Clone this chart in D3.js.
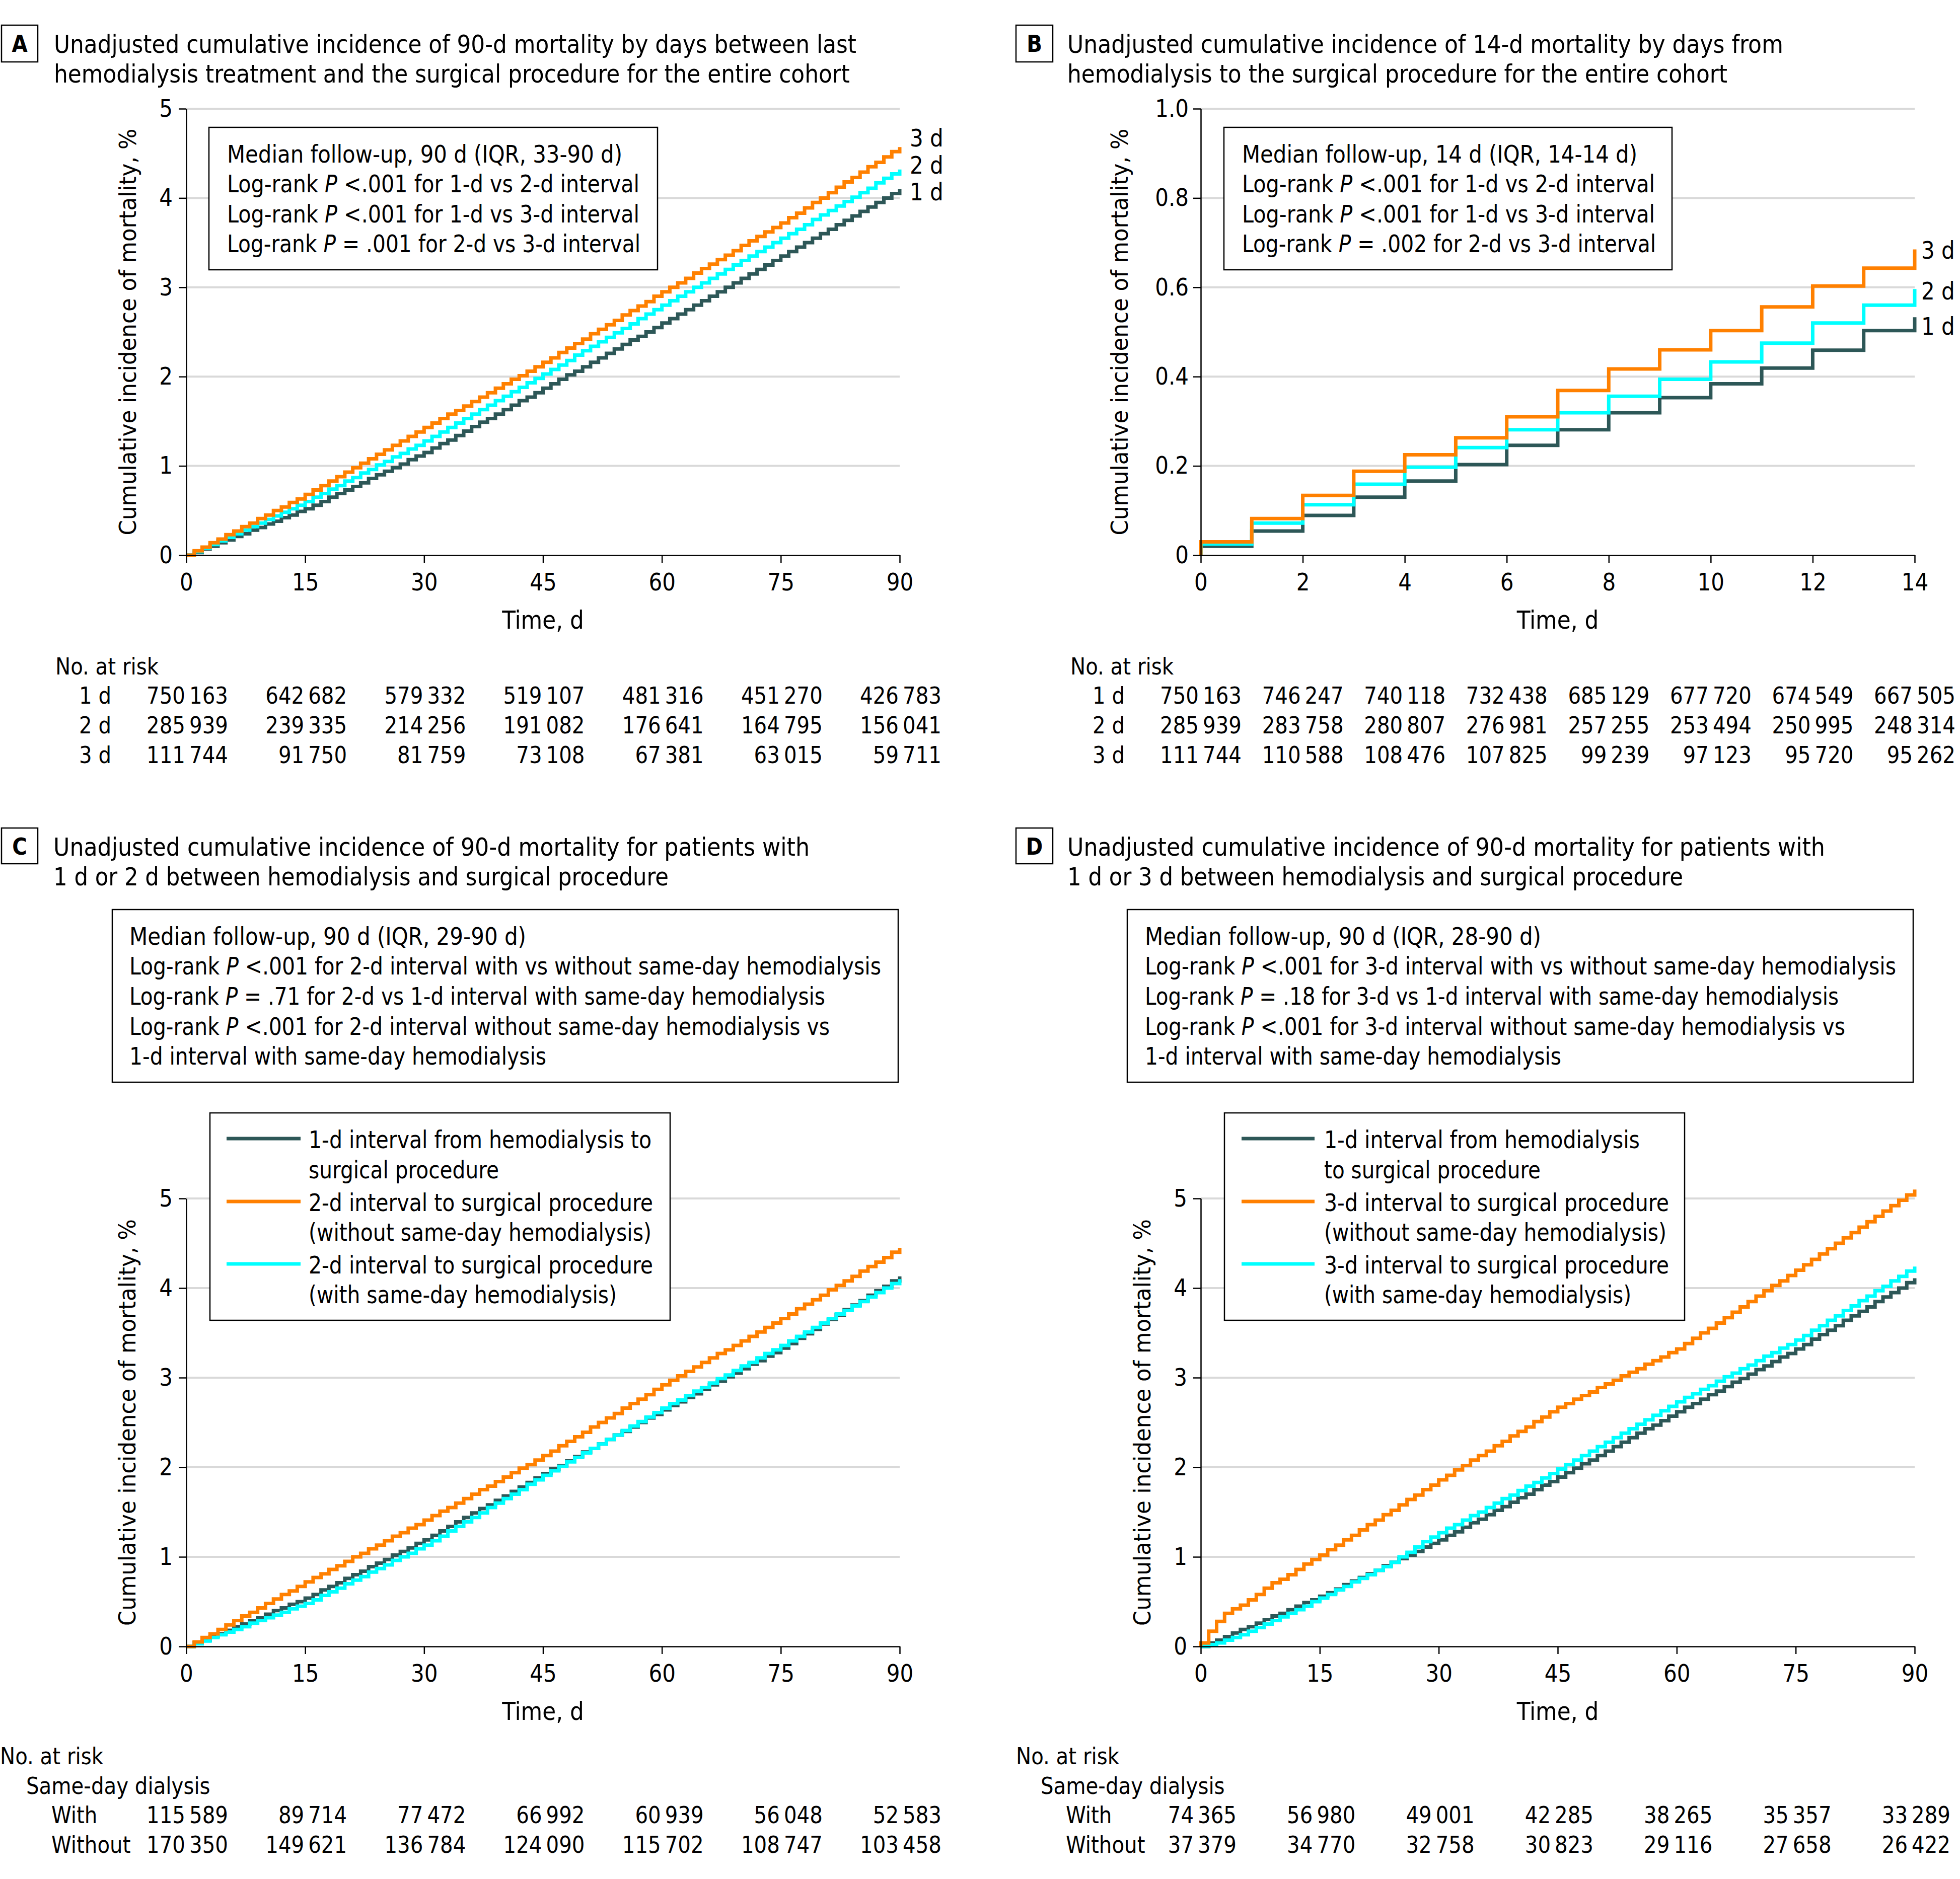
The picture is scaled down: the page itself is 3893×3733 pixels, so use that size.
<!DOCTYPE html>
<html><head><meta charset="utf-8">
<script src="https://cdn.jsdelivr.net/npm/d3@7"></script>
<style>body{margin:0;background:#fff}</style>
</head><body>
<script>
// ---------------- DATA ----------------
const xTicks90 = [0, 15, 30, 45, 60, 75, 90];
const xTicks14 = [0, 2, 4, 6, 8, 10, 12, 14];
const yTicks5 = [0, 1, 2, 3, 4, 5];
const yLabels5 = ["0", "1", "2", "3", "4", "5"];
const yTicks1 = [0, 0.2, 0.4, 0.6, 0.8, 1.0];
const yLabels1 = ["0", "0.2", "0.4", "0.6", "0.8", "1.0"];

// Panel A: cumulative incidence (%) at each day 0..90
const a1d = [0,0.03,0.07,0.10,0.14,0.17,0.21,0.24,0.28,0.31,0.35,0.38,0.42,0.45,0.49,0.52,
0.56,0.60,0.65,0.69,0.73,0.77,0.81,0.86,0.90,0.94,0.98,1.02,1.07,1.11,1.15,
1.20,1.25,1.29,1.34,1.39,1.44,1.49,1.53,1.58,1.63,1.68,1.73,1.77,1.82,1.87,
1.92,1.97,2.02,2.06,2.11,2.16,2.21,2.26,2.31,2.36,2.41,2.45,2.50,2.55,2.60,
2.65,2.70,2.75,2.80,2.85,2.90,2.95,3.00,3.05,3.10,3.15,3.20,3.25,3.30,3.35,
3.40,3.45,3.50,3.55,3.60,3.65,3.70,3.75,3.80,3.85,3.90,3.95,4.00,4.05,4.10];
const a2d = [0,0.04,0.08,0.12,0.16,0.20,0.24,0.28,0.32,0.36,0.40,0.44,0.48,0.52,0.56,0.60,
0.65,0.69,0.74,0.78,0.83,0.87,0.92,0.96,1.01,1.05,1.10,1.14,1.19,1.23,1.28,
1.33,1.38,1.43,1.48,1.53,1.58,1.63,1.68,1.73,1.78,1.83,1.88,1.93,1.98,2.03,
2.08,2.13,2.18,2.24,2.29,2.34,2.39,2.44,2.49,2.54,2.59,2.65,2.70,2.75,2.80,
2.85,2.90,2.95,3.00,3.05,3.10,3.15,3.20,3.25,3.30,3.35,3.40,3.45,3.50,3.55,
3.60,3.65,3.70,3.76,3.81,3.86,3.91,3.96,4.01,4.06,4.11,4.17,4.22,4.27,4.32];
const a3d = [0,0.05,0.09,0.14,0.18,0.23,0.27,0.32,0.36,0.41,0.45,0.50,0.54,0.59,0.63,0.68,
0.73,0.78,0.83,0.88,0.93,0.98,1.03,1.08,1.13,1.18,1.23,1.28,1.33,1.38,1.43,
1.48,1.53,1.58,1.62,1.67,1.72,1.77,1.82,1.87,1.92,1.97,2.01,2.06,2.11,2.16,
2.21,2.27,2.32,2.37,2.42,2.48,2.53,2.58,2.63,2.69,2.74,2.79,2.84,2.90,2.95,
3.00,3.05,3.10,3.16,3.21,3.26,3.31,3.36,3.41,3.47,3.52,3.57,3.62,3.67,3.72,
3.78,3.83,3.89,3.95,4.00,4.06,4.12,4.18,4.23,4.29,4.35,4.40,4.46,4.52,4.57];

// Panel B: cumulative incidence (%) at each day 0..14
const b1d = [0.020,0.054,0.089,0.130,0.166,0.203,0.246,0.281,0.319,0.353,0.384,0.419,0.459,0.503,0.533];
const b2d = [0.025,0.072,0.113,0.159,0.197,0.241,0.281,0.319,0.356,0.394,0.433,0.475,0.520,0.560,0.596];
const b3d = [0.030,0.082,0.134,0.188,0.225,0.263,0.310,0.369,0.417,0.460,0.503,0.556,0.603,0.643,0.685];

// Panel C
const c1d = [0,0.04,0.07,0.11,0.14,0.18,0.22,0.25,0.29,0.32,0.36,0.40,0.43,0.47,0.50,0.54,
0.58,0.63,0.67,0.71,0.76,0.80,0.84,0.89,0.93,0.97,1.02,1.06,1.10,1.15,1.19,
1.24,1.29,1.34,1.39,1.44,1.49,1.54,1.58,1.63,1.68,1.73,1.78,1.83,1.88,1.93,
1.98,2.02,2.07,2.12,2.17,2.21,2.26,2.31,2.36,2.40,2.45,2.50,2.55,2.59,2.64,
2.69,2.73,2.78,2.82,2.87,2.92,2.96,3.01,3.05,3.10,3.15,3.19,3.24,3.28,3.33,
3.38,3.44,3.49,3.54,3.60,3.65,3.70,3.76,3.81,3.86,3.92,3.97,4.02,4.08,4.13];
const c2dWith = [0,0.03,0.06,0.10,0.13,0.16,0.19,0.22,0.26,0.29,0.32,0.35,0.38,0.42,0.45,0.48,
0.52,0.57,0.61,0.65,0.70,0.74,0.78,0.83,0.87,0.91,0.96,1.00,1.04,1.09,1.13,
1.18,1.23,1.29,1.34,1.39,1.44,1.49,1.55,1.60,1.65,1.70,1.75,1.81,1.86,1.91,
1.96,2.01,2.06,2.11,2.16,2.21,2.26,2.31,2.36,2.41,2.46,2.51,2.56,2.61,2.66,
2.71,2.75,2.80,2.85,2.89,2.94,2.99,3.03,3.08,3.13,3.17,3.22,3.27,3.31,3.36,
3.41,3.46,3.51,3.56,3.61,3.66,3.71,3.75,3.80,3.85,3.90,3.95,4.00,4.05,4.10];
const c2dWithout = [0,0.05,0.10,0.14,0.19,0.24,0.29,0.34,0.38,0.43,0.48,0.53,0.58,0.62,0.67,0.72,
0.77,0.81,0.86,0.90,0.95,1.00,1.04,1.09,1.13,1.18,1.23,1.27,1.32,1.36,1.41,
1.46,1.51,1.55,1.60,1.65,1.70,1.75,1.79,1.84,1.89,1.94,1.99,2.03,2.08,2.13,
2.18,2.24,2.29,2.34,2.39,2.45,2.50,2.55,2.60,2.66,2.71,2.76,2.81,2.87,2.92,
2.97,3.02,3.07,3.12,3.17,3.22,3.27,3.31,3.36,3.41,3.46,3.51,3.56,3.61,3.66,
3.71,3.77,3.82,3.87,3.92,3.98,4.03,4.08,4.13,4.19,4.24,4.29,4.34,4.40,4.45];

// Panel D
const d1d = [0,0.04,0.07,0.11,0.15,0.19,0.22,0.26,0.30,0.34,0.37,0.41,0.45,0.49,0.52,0.56,
0.60,0.64,0.69,0.73,0.77,0.81,0.85,0.90,0.94,0.98,1.02,1.06,1.11,1.15,1.19,
1.24,1.28,1.33,1.38,1.42,1.47,1.52,1.56,1.61,1.66,1.70,1.75,1.80,1.84,1.89,
1.94,1.99,2.04,2.08,2.13,2.18,2.23,2.28,2.33,2.38,2.43,2.47,2.52,2.57,2.62,
2.67,2.71,2.76,2.81,2.85,2.90,2.95,2.99,3.04,3.09,3.13,3.18,3.23,3.27,3.32,
3.37,3.43,3.48,3.53,3.58,3.64,3.69,3.74,3.79,3.85,3.90,3.95,4.00,4.06,4.11];
const d3dWith = [0,0.02,0.04,0.07,0.10,0.13,0.17,0.21,0.25,0.29,0.33,0.37,0.41,0.45,0.50,0.54,
0.58,0.63,0.67,0.72,0.76,0.80,0.85,0.89,0.94,1.00,1.05,1.11,1.17,1.22,1.27,
1.32,1.36,1.41,1.46,1.50,1.55,1.60,1.65,1.69,1.74,1.79,1.83,1.88,1.93,1.98,
2.03,2.08,2.13,2.18,2.23,2.28,2.33,2.38,2.43,2.48,2.53,2.58,2.63,2.68,2.73,
2.78,2.82,2.87,2.91,2.96,3.01,3.05,3.10,3.14,3.19,3.24,3.28,3.33,3.37,3.42,
3.47,3.53,3.58,3.64,3.69,3.75,3.80,3.86,3.91,3.97,4.02,4.08,4.13,4.19,4.24];
const d3dWithout = [0.04,0.17,0.28,0.37,0.42,0.46,0.52,0.58,0.65,0.71,0.75,0.80,0.86,0.92,0.97,1.02,
1.08,1.13,1.19,1.24,1.30,1.36,1.41,1.47,1.52,1.58,1.64,1.69,1.75,1.80,1.86,
1.91,1.97,2.02,2.08,2.13,2.18,2.24,2.29,2.35,2.40,2.45,2.51,2.56,2.62,2.67,
2.71,2.76,2.80,2.84,2.89,2.93,2.97,3.02,3.06,3.10,3.15,3.19,3.23,3.28,3.32,
3.38,3.44,3.50,3.55,3.61,3.67,3.73,3.79,3.85,3.91,3.97,4.03,4.08,4.14,4.20,
4.26,4.32,4.38,4.44,4.50,4.56,4.62,4.68,4.74,4.80,4.86,4.92,4.98,5.04,5.10];

// Numbers at risk
const riskA1 = [750163, 642682, 579332, 519107, 481316, 451270, 426783];
const riskA2 = [285939, 239335, 214256, 191082, 176641, 164795, 156041];
const riskA3 = [111744, 91750, 81759, 73108, 67381, 63015, 59711];
const riskB1 = [750163, 746247, 740118, 732438, 685129, 677720, 674549, 667505];
const riskB2 = [285939, 283758, 280807, 276981, 257255, 253494, 250995, 248314];
const riskB3 = [111744, 110588, 108476, 107825, 99239, 97123, 95720, 95262];
const riskCWith = [115589, 89714, 77472, 66992, 60939, 56048, 52583];
const riskCWithout = [170350, 149621, 136784, 124090, 115702, 108747, 103458];
const riskDWith = [74365, 56980, 49001, 42285, 38265, 35357, 33289];
const riskDWithout = [37379, 34770, 32758, 30823, 29116, 27658, 26422];

// Texts
const titleA = ["Unadjusted cumulative incidence of 90-d mortality by days between last",
                "hemodialysis treatment and the surgical procedure for the entire cohort"];
const titleB = ["Unadjusted cumulative incidence of 14-d mortality by days from",
                "hemodialysis to the surgical procedure for the entire cohort"];
const titleC = ["Unadjusted cumulative incidence of 90-d mortality for patients with",
                "1 d or 2 d between hemodialysis and surgical procedure"];
const titleD = ["Unadjusted cumulative incidence of 90-d mortality for patients with",
                "1 d or 3 d between hemodialysis and surgical procedure"];
const P = s => [{t: "Log-rank"}, {t: "P", i: true}, {t: s}];
const statsA = [[{t: "Median follow-up, 90 d (IQR, 33-90 d)"}], P("<.001 for 1-d vs 2-d interval"),
                P("<.001 for 1-d vs 3-d interval"), P("= .001 for 2-d vs 3-d interval")];
const statsB = [[{t: "Median follow-up, 14 d (IQR, 14-14 d)"}], P("<.001 for 1-d vs 2-d interval"),
                P("<.001 for 1-d vs 3-d interval"), P("= .002 for 2-d vs 3-d interval")];
const statsC = [[{t: "Median follow-up, 90 d (IQR, 29-90 d)"}],
                P("<.001 for 2-d interval with vs without same-day hemodialysis"),
                P("= .71 for 2-d vs 1-d interval with same-day hemodialysis"),
                P("<.001 for 2-d interval without same-day hemodialysis vs"),
                [{t: "1-d interval with same-day hemodialysis"}]];
const statsD = [[{t: "Median follow-up, 90 d (IQR, 28-90 d)"}],
                P("<.001 for 3-d interval with vs without same-day hemodialysis"),
                P("= .18 for 3-d vs 1-d interval with same-day hemodialysis"),
                P("<.001 for 3-d interval without same-day hemodialysis vs"),
                [{t: "1-d interval with same-day hemodialysis"}]];
const legendC = [["1-d interval from hemodialysis to", "surgical procedure"],
                 ["2-d interval to surgical procedure", "(without same-day hemodialysis)"],
                 ["2-d interval to surgical procedure", "(with same-day hemodialysis)"]];
const legendD = [["1-d interval from hemodialysis", "to surgical procedure"],
                 ["3-d interval to surgical procedure", "(without same-day hemodialysis)"],
                 ["3-d interval to surgical procedure", "(with same-day hemodialysis)"]];

// ---------------- DRAWING ----------------
const W = 3893, H = 3733;
const FONT = "'Liberation Sans Narrow','DejaVu Sans Condensed','Roboto Condensed','Liberation Sans',sans-serif";
const YFONT = "'DejaVu Sans',Verdana,sans-serif";
const COL = {dark: '#2d5757', orange: '#ff8000', cyan: '#00ffff'};

const svg = d3.select('body').append('svg').attr('width', W).attr('height', H);
svg.append('rect').attr('width', W).attr('height', H).attr('fill', '#fff');

function measure(str, size, italic) {
  const t = svg.append('text').attr('font-family', FONT).attr('font-size', size).text(str);
  if (italic) t.attr('font-style', 'italic');
  const L = t.node().getComputedTextLength();
  t.remove();
  return L;
}
const K = 1594 / measure(titleA[0], 50);

function txt(parent, x, y, content, o = {}) {
  const t = parent.append('text').attr('x', x).attr('y', y)
    .attr('font-family', o.family || FONT).attr('font-size', o.size || 48).attr('fill', '#000');
  if (o.weight) t.attr('font-weight', o.weight);
  if (o.italic) t.attr('font-style', 'italic');
  t.text(content);
  const L = t.node().getComputedTextLength();
  const w = o.width != null ? o.width : L * K;
  t.attr('textLength', w).attr('lengthAdjust', 'spacingAndGlyphs').attr('text-anchor', 'start');
  const a = o.anchor || 'start';
  if (a === 'middle') t.attr('x', x - w / 2);
  else if (a === 'end') t.attr('x', x - w);
  return t;
}

// line made of segments (some italic), laid out as separate texts to fill a target width
function segLine(x, y, segs, width, size) {
  if (segs.length === 1) { txt(svg, x, y, segs[0].t, {size, width}); return; }
  const sp = measure("a a", size) - measure("aa", size);
  const nat = segs.map(s => measure(s.t, size, s.i));
  const total = d3.sum(nat) + sp * (segs.length - 1);
  const r = width / total;
  let cx = x;
  segs.forEach((s, i) => {
    txt(svg, cx, y, s.t, {size, width: nat[i] * r, italic: s.i});
    cx += (nat[i] + sp) * r;
  });
}

const fmt = n => { const s = String(n); return s.length > 4 ? s.slice(0, -3) + '\u2009' + s.slice(-3) : s; };

function drawPlot(p) {
  const g = svg.append('g');
  const x = d3.scaleLinear().domain([0, p.xmax]).range([p.x0, p.x1]);
  const y = d3.scaleLinear().domain([0, p.ymax]).range([p.yB, p.yT]);
  g.append('g').selectAll('line').data(p.yTicks.filter(v => v > 0)).join('line')
    .attr('x1', p.x0).attr('x2', p.x1).attr('y1', d => y(d)).attr('y2', d => y(d))
    .attr('stroke', '#d9d9d9').attr('stroke-width', 4);
  const line = d3.line().x(d => x(d[0])).y(d => y(d[1])).curve(d3.curveStepAfter);
  p.series.forEach(s => {
    const pts = [[0, 0]].concat(s.values.map((v, i) => [i, v]));
    g.append('path').attr('d', line(pts)).attr('fill', 'none')
      .attr('stroke', s.color).attr('stroke-width', 7);
  });
  const ya = d3.axisLeft(y).tickValues(p.yTicks).tickFormat((d, i) => p.yLabels[i])
    .tickSize(15).tickSizeOuter(0).tickPadding(p.yPad);
  const yg = g.append('g').attr('transform', `translate(${p.x0},0)`).call(ya);
  const xa = d3.axisBottom(x).tickValues(p.xTicks).tickSize(15).tickSizeOuter(0).tickPadding(21);
  const xg = g.append('g').attr('transform', `translate(0,${p.yB})`).call(xa);
  [yg, xg].forEach(a => {
    a.select('.domain').attr('stroke', '#000').attr('stroke-width', 2.5);
    a.selectAll('.tick line').attr('stroke', '#000').attr('stroke-width', 2.5);
    a.selectAll('.tick text').attr('font-family', FONT).attr('font-size', 48).attr('fill', '#000');
  });
  yg.selectAll('.tick text').each(function () {
    const t = d3.select(this); const w = this.getComputedTextLength() * K;
    t.attr('textLength', w).attr('lengthAdjust', 'spacingAndGlyphs').attr('text-anchor', 'start')
      .attr('x', (+t.attr('x')) - w);
  });
  xg.selectAll('.tick text').each(function () {
    const t = d3.select(this); const w = this.getComputedTextLength() * K;
    t.attr('textLength', w).attr('lengthAdjust', 'spacingAndGlyphs').attr('text-anchor', 'start')
      .attr('x', -w / 2);
  });
  txt(svg, (p.x0 + p.x1) / 2, p.yB + 146, "Time, d", {anchor: 'middle', size: 50});
  const yt = svg.append('g').attr('transform', `translate(${p.ytX},${(p.yT + p.yB) / 2}) rotate(-90)`);
  txt(yt, 0, 0, "Cumulative incidence of mortality, %", {anchor: 'middle', width: 808, family: YFONT, size: 47});
  return x;
}

function labelBox(x, y, w, h, letter) {
  svg.append('rect').attr('x', x).attr('y', y).attr('width', w).attr('height', h)
    .attr('fill', '#fff').attr('stroke', '#000').attr('stroke-width', 2.5);
  txt(svg, x + w / 2, y + 53, letter, {anchor: 'middle', size: 46, weight: 'bold'});
}

function titleLines(x, ys, lines, widths) {
  lines.forEach((l, i) => txt(svg, x, ys[i], l, {size: 50, width: widths[i]}));
}

function statsBox(r, tx, ys, lines, widths) {
  svg.append('rect').attr('x', r[0]).attr('y', r[1]).attr('width', r[2]).attr('height', r[3])
    .attr('fill', '#fff').attr('stroke', '#000').attr('stroke-width', 2.5);
  lines.forEach((l, i) => segLine(tx, ys[i], l, widths[i], 48));
}

function legendBox(r, lx, tx, lineYs, textYs, items, colors, widths) {
  svg.append('rect').attr('x', r[0]).attr('y', r[1]).attr('width', r[2]).attr('height', r[3])
    .attr('fill', '#fff').attr('stroke', '#000').attr('stroke-width', 2.5);
  items.forEach((it, i) => {
    svg.append('line').attr('x1', lx[0]).attr('x2', lx[1]).attr('y1', lineYs[i]).attr('y2', lineYs[i])
      .attr('stroke', colors[i]).attr('stroke-width', 7);
    it.forEach((s, j) => txt(svg, tx, textYs[i * 2 + j], s, {size: 48, width: widths[i * 2 + j]}));
  });
}

function riskRows(x, ticks, rows, offset) {
  rows.forEach(r => {
    txt(svg, r.lx, r.y, r.label, {size: 46, anchor: r.la || 'start'});
    ticks.forEach((t, i) => txt(svg, x(t) + offset, r.y, fmt(r.vals[i]), {size: 46, anchor: 'end'}));
  });
}

// ---- Panel A ----
const xA = drawPlot({x0: 370, x1: 1787, yT: 216, yB: 1103, xmax: 90, ymax: 5, yTicks: yTicks5, yLabels: yLabels5,
  xTicks: xTicks90, yPad: 12, ytX: 270,
  series: [{values: a1d, color: COL.dark}, {values: a2d, color: COL.cyan}, {values: a3d, color: COL.orange}]});
labelBox(3, 50, 72, 73, "A");
titleLines(107, [105, 164], titleA, [1594, 1581]);
statsBox([415, 253, 891, 283], 451, [323, 382, 442, 501], statsA, [785, 819, 819, 821]);
txt(svg, 1807, 291, "3 d"); txt(svg, 1807, 345, "2 d"); txt(svg, 1807, 398, "1 d");
txt(svg, 110, 1340, "No. at risk", {size: 46});
riskRows(xA, xTicks90, [
  {label: "1 d", lx: 221, la: 'end', y: 1398, vals: riskA1},
  {label: "2 d", lx: 221, la: 'end', y: 1457, vals: riskA2},
  {label: "3 d", lx: 221, la: 'end', y: 1516, vals: riskA3}], 83);

// ---- Panel B ----
const xB = drawPlot({x0: 2385, x1: 3803, yT: 216, yB: 1103, xmax: 14, ymax: 1, yTicks: yTicks1, yLabels: yLabels1,
  xTicks: xTicks14, yPad: 9, ytX: 2240,
  series: [{values: b1d, color: COL.dark}, {values: b2d, color: COL.cyan}, {values: b3d, color: COL.orange}]});
labelBox(2018, 50, 73, 73, "B");
titleLines(2120, [105, 164], titleB, [1422, 1311]);
statsBox([2431, 253, 890, 283], 2467, [323, 382, 442, 501], statsB, [785, 820, 820, 822]);
txt(svg, 3816, 514, "3 d"); txt(svg, 3816, 595, "2 d"); txt(svg, 3816, 665, "1 d");
txt(svg, 2126, 1340, "No. at risk", {size: 46});
riskRows(xB, xTicks14, [
  {label: "1 d", lx: 2234, la: 'end', y: 1398, vals: riskB1},
  {label: "2 d", lx: 2234, la: 'end', y: 1457, vals: riskB2},
  {label: "3 d", lx: 2234, la: 'end', y: 1516, vals: riskB3}], 81);

// ---- Panel C ----
const xC = drawPlot({x0: 370, x1: 1787, yT: 2381, yB: 3271, xmax: 90, ymax: 5, yTicks: yTicks5, yLabels: yLabels5,
  xTicks: xTicks90, yPad: 12, ytX: 269,
  series: [{values: c1d, color: COL.dark}, {values: c2dWith, color: COL.cyan}, {values: c2dWithout, color: COL.orange}]});
labelBox(3, 1645, 72, 71, "C");
titleLines(106, [1700, 1759], titleC, [1502, 1222]);
statsBox([223, 1807, 1561, 343], 257, [1877, 1936, 1996, 2056, 2115], statsC, [788, 1493, 1382, 1391, 828]);
legendBox([417, 2211, 914, 412], [450, 597], 613, [2262, 2387, 2511], [2281, 2341, 2406, 2465, 2530, 2589],
  legendC, [COL.dark, COL.orange, COL.cyan], [681, 378, 684, 681, 684, 612]);
txt(svg, 0, 3505, "No. at risk", {size: 46});
txt(svg, 52, 3564, "Same-day dialysis", {size: 46});
riskRows(xC, xTicks90, [
  {label: "With", lx: 102, y: 3622, vals: riskCWith},
  {label: "Without", lx: 102, y: 3681, vals: riskCWithout}], 83);

// ---- Panel D ----
const xD = drawPlot({x0: 2385, x1: 3803, yT: 2381, yB: 3271, xmax: 90, ymax: 5, yTicks: yTicks5, yLabels: yLabels5,
  xTicks: xTicks90, yPad: 12, ytX: 2285,
  series: [{values: d1d, color: COL.dark}, {values: d3dWith, color: COL.cyan}, {values: d3dWithout, color: COL.orange}]});
labelBox(2018, 1645, 73, 71, "D");
titleLines(2120, [1700, 1759], titleD, [1505, 1223]);
statsBox([2239, 1807, 1561, 343], 2274, [1877, 1936, 1996, 2056, 2115], statsD, [787, 1492, 1378, 1391, 827]);
legendBox([2432, 2211, 914, 412], [2466, 2611], 2630, [2262, 2387, 2511], [2281, 2341, 2406, 2465, 2530, 2589],
  legendD, [COL.dark, COL.orange, COL.cyan], [627, 430, 685, 680, 685, 610]);
txt(svg, 2018, 3505, "No. at risk", {size: 46});
txt(svg, 2067, 3564, "Same-day dialysis", {size: 46});
riskRows(xD, xTicks90, [
  {label: "With", lx: 2117, y: 3622, vals: riskDWith},
  {label: "Without", lx: 2117, y: 3681, vals: riskDWithout}], 71);
</script>
</body></html>
